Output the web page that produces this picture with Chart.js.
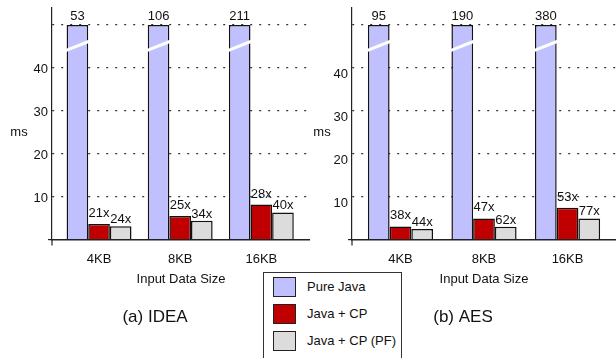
<!DOCTYPE html>
<html lang="en">
<head>
<meta charset="UTF-8" />
<title>IDEA / AES execution time</title>
<script src="https://cdn.jsdelivr.net/npm/chart.js"></script>
<style>
  body { margin: 0; background: #fff; font-family: "Liberation Sans", Arial, sans-serif; color: #111; }
  canvas { position: absolute; top: 0; }
  #ideaChart { left: 0; }
  #aesChart { left: 310px; }
  #legend {
    position: absolute; left: 263px; top: 272px; width: 137px; height: 92px;
    border: 1px solid #333; background: #fff; z-index: 2;
  }
  #legend .item { position: absolute; left: 9px; height: 20px; font-size: 13px; line-height: 20px; }
  #legend .swatch {
    display: inline-block; width: 21px; height: 18px; border: 1px solid #222;
    vertical-align: top; margin-right: 11px;
  }
</style>
</head>
<body>
<canvas id="ideaChart" width="310" height="340"></canvas>
<canvas id="aesChart" width="306" height="340"></canvas>
<div id="legend"></div>

<script>
const sizes = ["4KB", "8KB", "16KB"];
const seriesNames = ["Pure Java", "Java + CP", "Java + CP (PF)"];

// IDEA, ms (pure java bars are cut at 50, real value printed on top)
const ideaPureJava = [53, 106, 211];
const ideaCP = [3.6, 5.5, 8.15];
const ideaPF = [3.1, 4.35, 6.3];
const ideaCPSpeedup = [21, 25, 28];
const ideaPFSpeedup = [24, 34, 40];

// AES, ms
const aesPureJava = [95, 190, 380];
const aesCP = [3.05, 4.9, 7.4];
const aesPF = [2.45, 2.95, 4.9];
const aesCPSpeedup = [38, 47, 53];
const aesPFSpeedup = [44, 62, 77];

const yTicks = [10, 20, 30, 40];
const yCap = 50;

const colors = ["#c0c0ff", "#c00000", "#dcdcdc"];
const FONT = "'Liberation Sans', Arial, sans-serif";

// labels over bars, break marks, "ms" label
const barNotes = {
  id: "barNotes",
  afterDatasetsDraw(chart) {
    const ctx = chart.ctx;
    const y = chart.scales.y;
    const meta0 = chart.getDatasetMeta(0);
    ctx.save();
    ctx.strokeStyle = "#fff";
    ctx.lineWidth = 3;
    meta0.data.forEach((bar) => {
      const w = bar.width / 2 + 1;
      ctx.beginPath();
      ctx.moveTo(bar.x - w, y.getPixelForValue(44));
      ctx.lineTo(bar.x + w, y.getPixelForValue(46.2));
      ctx.stroke();
    });
    ctx.font = "13px " + FONT;
    ctx.fillStyle = "#111";
    ctx.textAlign = "center";
    ctx.textBaseline = "alphabetic";
    chart.data.datasets.forEach((ds, di) => {
      chart.getDatasetMeta(di).data.forEach((bar, i) => {
        ctx.fillText(ds.notes[i], bar.x, bar.y - ds.noteGap);
      });
    });
    ctx.restore();
  },
  afterDraw(chart) {
    const ctx = chart.ctx;
    const a = chart.chartArea;
    ctx.save();
    // y axis runs a bit below the baseline
    ctx.strokeStyle = "#222";
    ctx.lineWidth = 1.2;
    ctx.beginPath();
    ctx.moveTo(a.left, a.bottom);
    ctx.lineTo(a.left, a.bottom + 6);
    ctx.stroke();
    ctx.font = "13px " + FONT;
    ctx.fillStyle = "#111";
    ctx.textAlign = "center";
    ctx.textBaseline = "middle";
    ctx.fillText("ms", a.left - chart.options.msGap, chart.scales.y.getPixelForValue(25));
    ctx.restore();
  }
};

function makeChart(id, title, pure, cp, pf, cpX, pfX, axisX, xMin, xMax, catPct, tickShift, msGap) {
  const pts = (arr) => arr.map((v, i) => ({ x: i, y: Math.min(v, yCap) }));
  return new Chart(document.getElementById(id), {
    type: "bar",
    data: {
      datasets: [
        { label: seriesNames[0], data: pts(pure), backgroundColor: colors[0],
          notes: pure.map(String), noteGap: 5 },
        { label: seriesNames[1], data: pts(cp), backgroundColor: colors[1],
          notes: cpX.map((v) => v + "x"), noteGap: 7 },
        { label: seriesNames[2], data: pts(pf), backgroundColor: colors[2],
          notes: pfX.map((v) => v + "x"), noteGap: 3 },
      ],
    },
    options: {
      responsive: false,
      animation: false,
      msGap: msGap,
      layout: { padding: { top: 7, left: 0, right: 0, bottom: 0 } },
      datasets: {
        bar: { borderColor: "#111", borderWidth: 1.5, barPercentage: 1, categoryPercentage: catPct },
      },
      scales: {
        x: {
          type: "linear",
          offset: false,
          min: xMin,
          max: xMax,
          afterBuildTicks: (s) => { s.ticks = sizes.map((_, i) => ({ value: i })); },
          afterFit: (s) => { s.height = 67.3; },
          ticks: { callback: (v) => sizes[v], color: "#111", font: { size: 13, family: FONT }, padding: 12 },
          grid: { display: false, drawTicks: false, offset: false },
          border: { color: "#222", width: 1.4 },
          title: { display: true, text: "Input Data Size", color: "#111",
                   font: { size: 13, family: FONT }, padding: { top: 0, bottom: 20 } },
        },
        y: {
          min: 0,
          max: 54,
          afterBuildTicks: (s) => { s.ticks = [0, ...yTicks, yCap].map((v) => ({ value: v })); },
          afterFit: (s) => { s.width = axisX; },
          ticks: {
            callback: (v) => (yTicks.includes(v) ? v : ""),
            color: "#111", font: { size: 13, family: FONT }, padding: 0, labelOffset: tickShift,
          },
          grid: {
            color: (c) => (c.tick && c.tick.value === 0 ? "rgba(0,0,0,0)" : "#333"),
            tickColor: (c) => (c.tick && c.tick.value === 0 ? "#222" : "rgba(0,0,0,0)"),
            tickLength: 4,
            lineWidth: 1.2,
          },
          border: { color: "#222", width: 1.2, dash: [2, 7] },
        },
      },
      plugins: {
        legend: { display: false },
        tooltip: { enabled: false },
        title: { display: true, text: title, position: "bottom", color: "#111",
                 font: { size: 17, weight: "normal", family: FONT }, padding: { top: 0, bottom: 12.8 } },
      },
    },
    plugins: [barNotes],
  });
}

makeChart("ideaChart", "(a) IDEA", ideaPureJava, ideaCP, ideaPF, ideaCPSpeedup, ideaPFSpeedup,
          52, -0.58, 2.6, 0.8, 1.5, 33);
makeChart("aesChart", "(b) AES", aesPureJava, aesCP, aesPF, aesCPSpeedup, aesPFSpeedup,
          42, -0.58, 2.58, 0.78, 7, 30);

// legend box between the panels
const legend = document.getElementById("legend");
seriesNames.forEach((name, i) => {
  const item = document.createElement("div");
  item.className = "item";
  item.style.top = 4 + i * 27 + "px";
  item.innerHTML = '<span class="swatch" style="background:' + colors[i] + '"></span>' + name;
  legend.appendChild(item);
});
</script>
</body>
</html>
